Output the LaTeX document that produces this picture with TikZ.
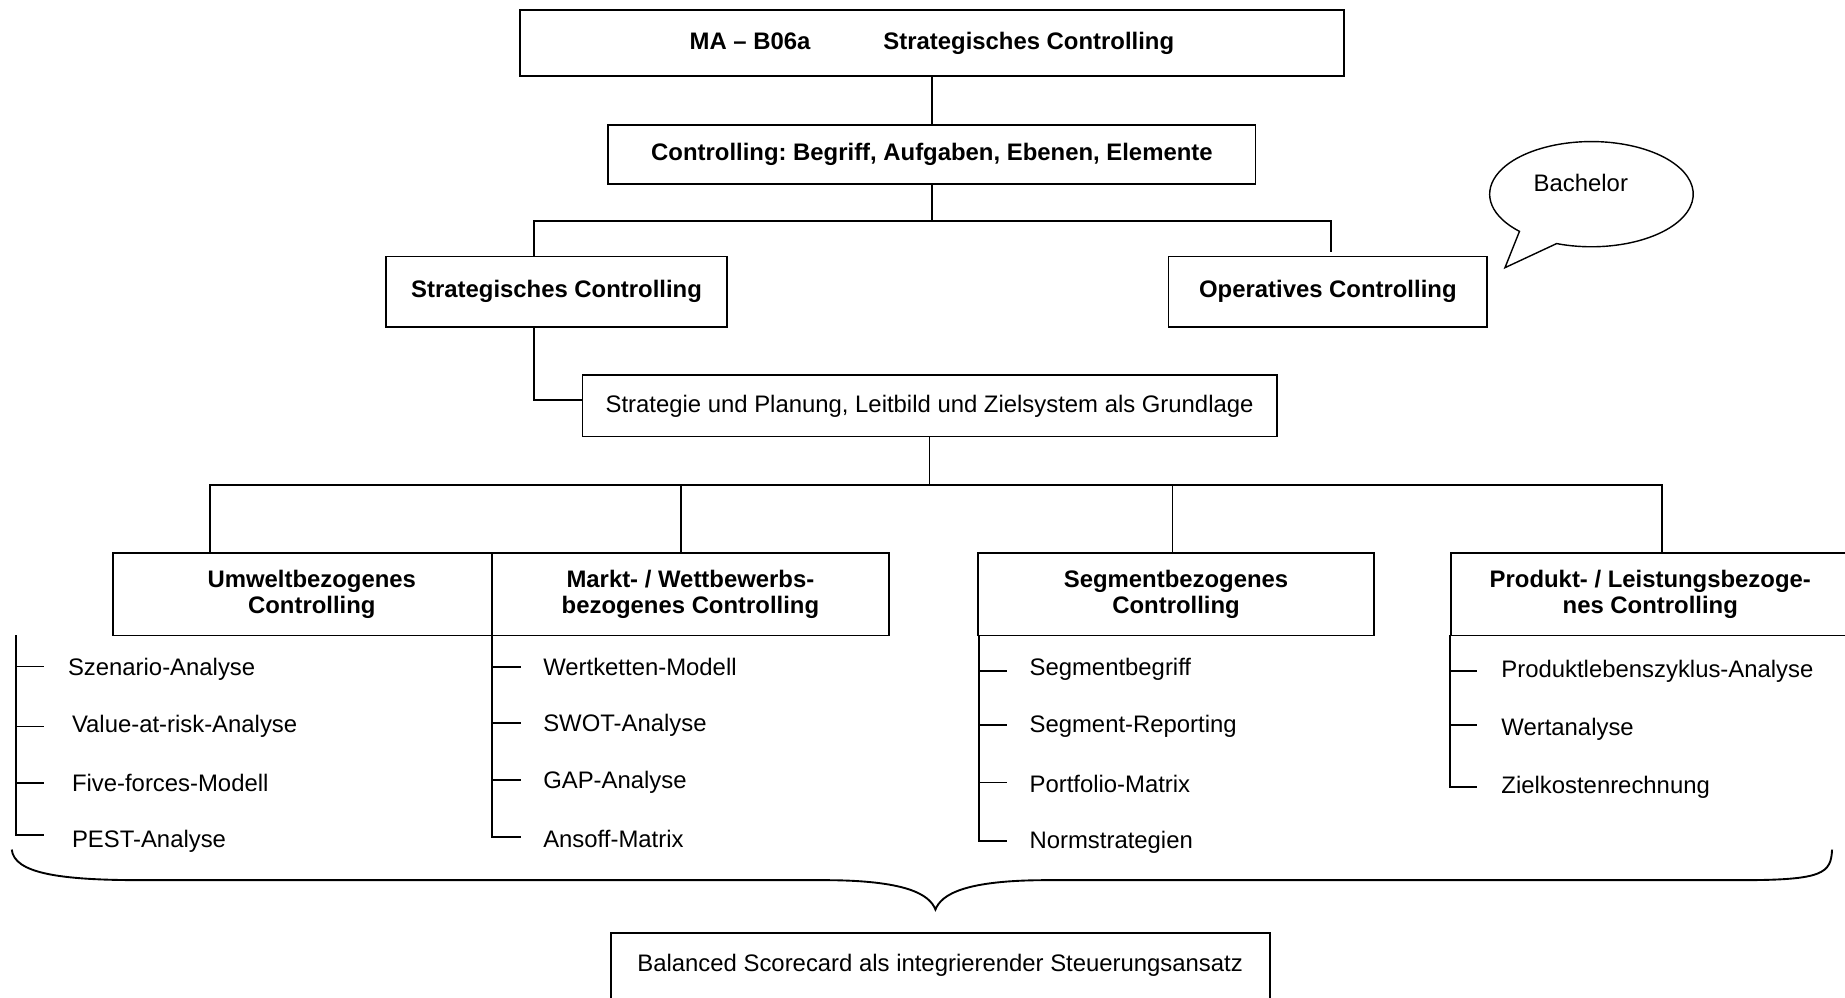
\documentclass[tikz,border=0pt]{standalone}
\usepackage{fontspec}
\setmainfont{Liberation Sans}
\frenchspacing
\begin{document}
\begin{tikzpicture}[x=0.5pt,y=-0.5pt,
  every node/.style={font=\fontsize{10.15pt}{11pt}\selectfont},
  box/.style={draw, line width=0.75pt, inner sep=0pt, align=center, font=\fontsize{10.15pt}{11pt}\selectfont\bfseries},
  plainbox/.style={draw, line width=0.75pt, inner sep=0pt, align=center, font=\fontsize{10.15pt}{11pt}\selectfont},
  item/.style={anchor=west, inner sep=0pt},
  conn/.style={line width=0.75pt},
]
\useasboundingbox (0,0) rectangle (1568,848);
\clip (0,0) rectangle (1568,848);

% boxes
\node[box, minimum width=350pt, minimum height=28pt] (top) at (792,36.5) {MA – B06a\hspace{31pt}Strategisches Controlling};
\node[box, minimum width=275pt, minimum height=25pt] (ctrl) at (792,131.5) {Controlling: Begriff, Aufgaben, Ebenen, Elemente};
\node[box, minimum width=145pt, minimum height=30pt] (strat) at (473,248) {Strategisches Controlling};
\node[box, minimum width=135.5pt, minimum height=30pt] (oper) at (1128.5,248) {Operatives Controlling};
\node[plainbox, minimum width=295pt, minimum height=26pt] (grund) at (790,345) {Strategie und Planung, Leitbild und Zielsystem als Grundlage};
\node[box, minimum width=161pt, minimum height=35pt] (umw) at (257,505) {\hspace*{8pt}Umweltbezogenes\\\hspace*{8pt}Controlling};
\node[box, minimum width=168.75pt, minimum height=35pt] (markt) at (586.75,505) {Markt- / Wettbewerbs-\\bezogenes Controlling};
\node[box, minimum width=168.5pt, minimum height=35pt] (seg) at (999.5,505) {Segmentbezogenes\\Controlling};
\node[box, minimum width=169.5pt, minimum height=35pt] (prod) at (1402.5,505) {Produkt- / Leistungsbezoge-\\nes Controlling};
\node[plainbox, anchor=north, minimum width=280pt, text height=16.5pt, text depth=22.5pt] (bal) at (799,792) {Balanced Scorecard als integrierender Steuerungsansatz};

% callout
\coordinate (bc) at (1352.5,165);
\coordinate (tip) at (1279,227.5);
\draw[line width=0.6pt] (bc) ++(250:43.25pt and 22.35pt) arc[start angle=250, end angle=585, x radius=43.25pt, y radius=22.35pt] -- (tip) -- cycle;
\node (bach) at (1343.5,155.8) {Bachelor};

% connectors
\draw[conn] (top.south) -- (ctrl.north);
\coordinate (j1) at (792,187.5);
\coordinate (sa) at (454,218);
\coordinate (oa) at (1131,214.5);
\draw[conn] (ctrl.south) -- (j1);
\draw[conn] (sa) |- (j1) -| (oa);
\coordinate (sb) at (454,277.6);
\coordinate (ga) at (495,340);
\draw[conn] (sb) |- (ga);
\coordinate (j2) at (790,412);
\draw[conn] (grund.south) -- (j2);
\coordinate (ua) at (178.5,470);
\coordinate (ma) at (578.6,470);
\coordinate (sga) at (996.4,470);
\coordinate (pa) at (1412.5,470);
\draw[conn] (ua) |- (j2) -| (pa);
\draw[conn] (ma) -- (ma |- j2);
\draw[conn] (sga) -- (sga |- j2);

% Umwelt list
\draw[conn] (13.5,540) -- (13.5,709.6) -- (37.4,709.6);
\foreach \yy in {566.5,617.5,665.7} \draw[conn] (13.5,\yy) -- (37.4,\yy);
\node[item] (u1) at (57.4,568.8) {Szenario-Analyse};
\node[item] (u2) at (60.8,617.5) {Value-at-risk-Analyse};
\node[item] (u3) at (60.8,665.5) {Five-forces-Modell};
\node[item] (u4) at (60.8,715) {PEST-Analyse};

% Markt list
\draw[conn] (418,540) -- (418,711) -- (443,711);
\foreach \yy in {566.6,614.7,663} \draw[conn] (418,\yy) -- (443,\yy);
\node[item] (m1) at (461.3,566.6) {Wertketten-Modell};
\node[item] (m2) at (461.3,616) {SWOT-Analyse};
\node[item] (m3) at (461.3,665) {GAP-Analyse};
\node[item] (m4) at (461.3,712.6) {Ansoff-Matrix};

% Segment list
\draw[conn] (832,540) -- (832,714.5) -- (856,714.5);
\foreach \yy in {570,616,665} \draw[conn] (832,\yy) -- (856,\yy);
\node[item] (s1) at (874.6,568.5) {Segmentbegriff};
\node[item] (s2) at (874.6,617.6) {Segment-Reporting};
\node[item] (s3) at (874.6,666) {Portfolio-Matrix};
\node[item] (s4) at (874.6,715.5) {Normstrategien};

% Produkt list
\draw[conn] (1232,540) -- (1232,668.6) -- (1255.6,668.6);
\foreach \yy in {570,616} \draw[conn] (1232,\yy) -- (1255.6,\yy);
\node[item] (p1) at (1275.6,570.5) {Produktlebenszyklus-Analyse};
\node[item] (p2) at (1275.6,619.6) {Wertanalyse};
\node[item] (p3) at (1275.6,668.9) {Zielkostenrechnung};

% brace
\draw[line width=0.8pt] (10,722) .. controls (12,742) and (50,748) .. (120,748) -- (700,748) .. controls (770,748) and (790,760) .. (795,773) .. controls (800,760) and (820,748) .. (890,748) -- (1480,748) .. controls (1550,748) and (1556,742) .. (1557,722);
\end{tikzpicture}
\end{document}
